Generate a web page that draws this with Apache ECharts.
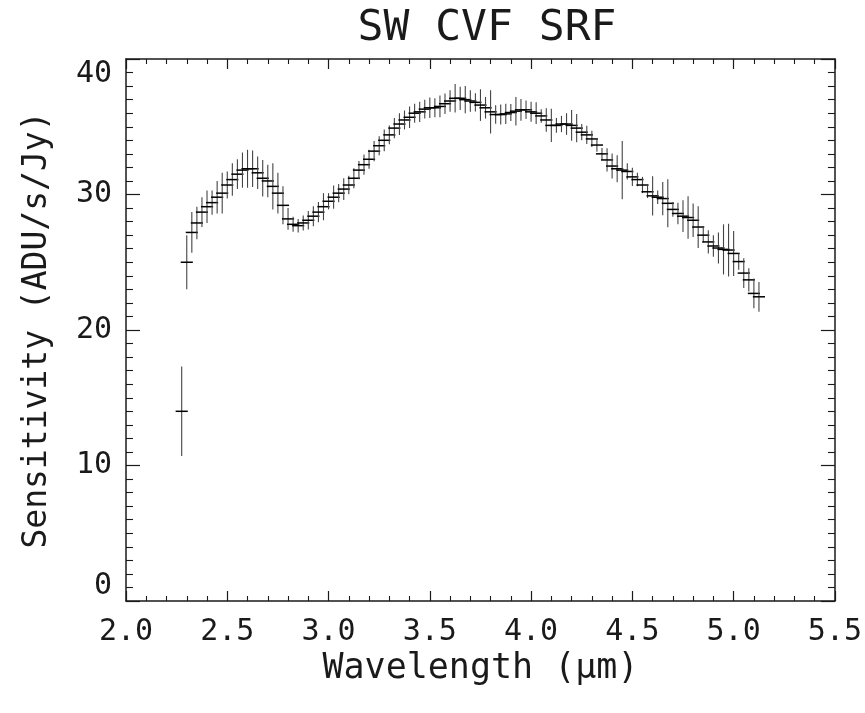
<!DOCTYPE html>
<html>
<head>
<meta charset="utf-8">
<title>SW CVF SRF</title>
<script src="https://cdn.jsdelivr.net/npm/echarts@6/dist/echarts.min.js"></script>
<style>
  html, body { margin: 0; padding: 0; background: #fff; }
  #main { width: 865px; height: 713px; }
</style>
</head>
<body>
<div id="main"></div>
<script>
// wavelength of each CVF step (um)
var wavelength = [
  2.275, 2.300, 2.325, 2.350, 2.375, 2.400, 2.425, 2.450, 2.475, 2.500,
  2.525, 2.550, 2.575, 2.600, 2.625, 2.650, 2.675, 2.700, 2.725, 2.750,
  2.775, 2.800, 2.825, 2.850, 2.875, 2.900, 2.925, 2.950, 2.975, 3.000,
  3.025, 3.050, 3.075, 3.100, 3.125, 3.150, 3.175, 3.200, 3.225, 3.250,
  3.275, 3.300, 3.325, 3.350, 3.375, 3.400, 3.425, 3.450, 3.475, 3.500,
  3.525, 3.550, 3.575, 3.600, 3.625, 3.650, 3.675, 3.700, 3.725, 3.750,
  3.775, 3.800, 3.825, 3.850, 3.875, 3.900, 3.925, 3.950, 3.975, 4.000,
  4.025, 4.050, 4.075, 4.100, 4.125, 4.150, 4.175, 4.200, 4.225, 4.250,
  4.275, 4.300, 4.325, 4.350, 4.375, 4.400, 4.425, 4.450, 4.475, 4.500,
  4.525, 4.550, 4.575, 4.600, 4.625, 4.650, 4.675, 4.700, 4.725, 4.750,
  4.775, 4.800, 4.825, 4.850, 4.875, 4.900, 4.925, 4.950, 4.975, 5.000,
  5.025, 5.050, 5.075, 5.100, 5.125
];
// sensitivity (ADU/s/Jy)
var sensitivity = [
  14.0, 25.0, 27.2, 27.9, 28.7, 29.1, 29.4, 29.8, 30.1, 30.7,
  31.1, 31.5, 31.8, 31.9, 31.9, 31.6, 31.2, 31.0, 30.6, 30.1,
  29.2, 28.2, 27.8, 27.7, 27.9, 28.1, 28.4, 28.7, 29.1, 29.5,
  29.8, 30.1, 30.4, 30.7, 31.2, 31.8, 32.2, 32.6, 33.2, 33.6,
  34.0, 34.4, 34.9, 35.2, 35.5, 35.7, 36.0, 36.1, 36.3, 36.4,
  36.4, 36.5, 36.7, 36.9, 37.1, 37.1, 37.0, 36.9, 36.8, 36.6,
  36.4, 36.1, 35.9, 35.9, 35.95, 36.05, 36.15, 36.25, 36.25, 36.1,
  36.0, 35.8, 35.5, 35.1, 35.1, 35.2, 35.2, 35.1, 34.9, 34.6,
  34.4, 34.1, 33.65, 33.0, 32.55, 32.1, 31.9, 31.8, 31.7, 31.3,
  31.1, 30.7, 30.2, 29.9, 29.8, 29.7, 29.35, 28.9, 28.6, 28.4,
  28.3, 28.1, 27.6, 27.0, 26.5, 26.2, 26.05, 25.95, 25.9, 25.65,
  25.05, 24.2, 23.7, 22.7, 22.45
];
// 1-sigma error on sensitivity
var sensError = [
  3.3, 2.0, 1.5, 1.2, 1.1, 1.2, 0.9, 1.2, 1.5, 1.0,
  1.2, 1.1, 1.3, 1.4, 1.35, 1.2, 1.35, 1.2, 1.7, 1.5,
  1.4, 0.8, 0.55, 0.5, 0.55, 0.68, 0.74, 0.74, 1.0, 0.6,
  0.86, 0.68, 0.8, 0.68, 0.74, 0.68, 0.75, 0.7, 0.75, 0.7,
  0.8, 0.7, 0.75, 0.8, 0.7, 0.8, 0.7, 0.75, 0.7, 0.75,
  0.7, 0.8, 0.75, 0.8, 1.05, 0.86, 1.0, 0.8, 0.68, 1.17,
  0.8, 1.6, 0.68, 0.74, 0.74, 0.62, 1.05, 0.8, 0.68, 0.74,
  0.8, 0.5, 0.86, 1.23, 0.55, 0.6, 0.8, 1.14, 1.05, 0.6,
  0.68, 0.6, 0.5, 0.43, 0.86, 0.92, 1.0, 2.15, 0.6, 0.68,
  0.5, 0.6, 0.45, 1.45, 0.5, 1.23, 1.77, 0.55, 0.8, 1.17,
  1.57, 1.23, 1.54, 0.55, 0.86, 0.8, 1.14, 1.85, 1.95, 1.66,
  0.6, 1.1, 0.86, 1.1, 1.1
];
// half width of each CVF step (um)
var binHalfWidth = 0.03;

var xTicks = [2.0, 2.5, 3.0, 3.5, 4.0, 4.5, 5.0, 5.5];
var yTicks = [0, 10, 20, 30, 40];

var points = [];
for (var i = 0; i < wavelength.length; i++) {
  points.push([wavelength[i], sensitivity[i], sensError[i]]);
}

var FONT = '"DejaVu Sans Mono", "Liberation Mono", monospace';
var INK = '#1a1a1a';

function renderCross(params, api) {
  var x = api.value(0), y = api.value(1), e = api.value(2);
  var l = api.coord([x - binHalfWidth, y]);
  var r = api.coord([x + binHalfWidth, y]);
  var t = api.coord([x, y + e]);
  var b = api.coord([x, y - e]);
  return {
    type: 'group',
    children: [
      { type: 'line', shape: { x1: t[0], y1: t[1], x2: b[0], y2: b[1] },
        style: { stroke: '#444', lineWidth: 1.1 } },
      { type: 'line', shape: { x1: l[0], y1: l[1], x2: r[0], y2: r[1] },
        style: { stroke: '#000', lineWidth: 1.5 } }
    ]
  };
}

var chart = echarts.init(document.getElementById('main'), null, { renderer: 'canvas' });

var frameLine = { show: true, onZero: false, lineStyle: { color: INK, width: 1.5 } };

var option = {
  animation: false,
  backgroundColor: '#fff',
  title: {
    text: 'SW CVF SRF',
    left: 482,
    top: 2,
    textAlign: 'center',
    textStyle: { fontFamily: FONT, fontSize: 43, fontWeight: 'normal', color: INK }
  },
  grid: { left: 126, right: 27, top: 59, bottom: 112, containLabel: false },
  xAxis: [
    {
      type: 'value', min: 2.0, max: 5.5, interval: 0.5, position: 'bottom',
      name: 'Wavelength (\u03bcm)', nameLocation: 'middle', nameGap: 40,
      nameTextStyle: { fontFamily: FONT, fontSize: 35, color: INK },
      axisLine: frameLine,
      axisTick: { show: true, inside: true, length: 10, lineStyle: { color: INK, width: 1.2 } },
      minorTick: { show: true, splitNumber: 5, length: 5, lineStyle: { color: INK, width: 1.1 } },
      splitLine: { show: false },
      axisLabel: {
        margin: 16, fontFamily: FONT, fontSize: 30, color: INK,
        showMinLabel: true, showMaxLabel: true,
        formatter: function (v) { return v.toFixed(1); }
      }
    },
    {
      type: 'value', min: 2.0, max: 5.5, interval: 0.5, position: 'top',
      axisLine: frameLine,
      axisTick: { show: true, inside: true, length: 10, lineStyle: { color: INK, width: 1.2 } },
      minorTick: { show: true, splitNumber: 5, length: 5, lineStyle: { color: INK, width: 1.1 } },
      splitLine: { show: false },
      axisLabel: { show: false }
    }
  ],
  yAxis: [
    {
      type: 'value', min: 0, max: 40, interval: 10, position: 'left',
      name: 'Sensitivity (ADU/s/Jy)', nameLocation: 'middle', nameGap: 72,
      nameTextStyle: { fontFamily: FONT, fontSize: 33, color: INK },
      axisLine: frameLine,
      axisTick: { show: true, inside: true, length: 14, lineStyle: { color: INK, width: 1.2 } },
      minorTick: { show: true, splitNumber: 10, length: 7, lineStyle: { color: INK, width: 1.1 } },
      splitLine: { show: false },
      axisLabel: {
        margin: 14, fontFamily: FONT, fontSize: 30, color: INK,
        showMinLabel: true, showMaxLabel: true,
        verticalAlignMinLabel: 'bottom', verticalAlignMaxLabel: 'top'
      }
    },
    {
      type: 'value', min: 0, max: 40, interval: 10, position: 'right',
      axisLine: frameLine,
      axisTick: { show: true, inside: true, length: 14, lineStyle: { color: INK, width: 1.2 } },
      minorTick: { show: true, splitNumber: 10, length: 7, lineStyle: { color: INK, width: 1.1 } },
      splitLine: { show: false },
      axisLabel: { show: false }
    }
  ],
  series: [
    {
      name: 'SRF',
      type: 'custom',
      xAxisIndex: 0,
      yAxisIndex: 0,
      renderItem: renderCross,
      encode: { x: 0, y: 1 },
      data: points,
      clip: true
    }
  ]
};

chart.setOption(option);
</script>
</body>
</html>
